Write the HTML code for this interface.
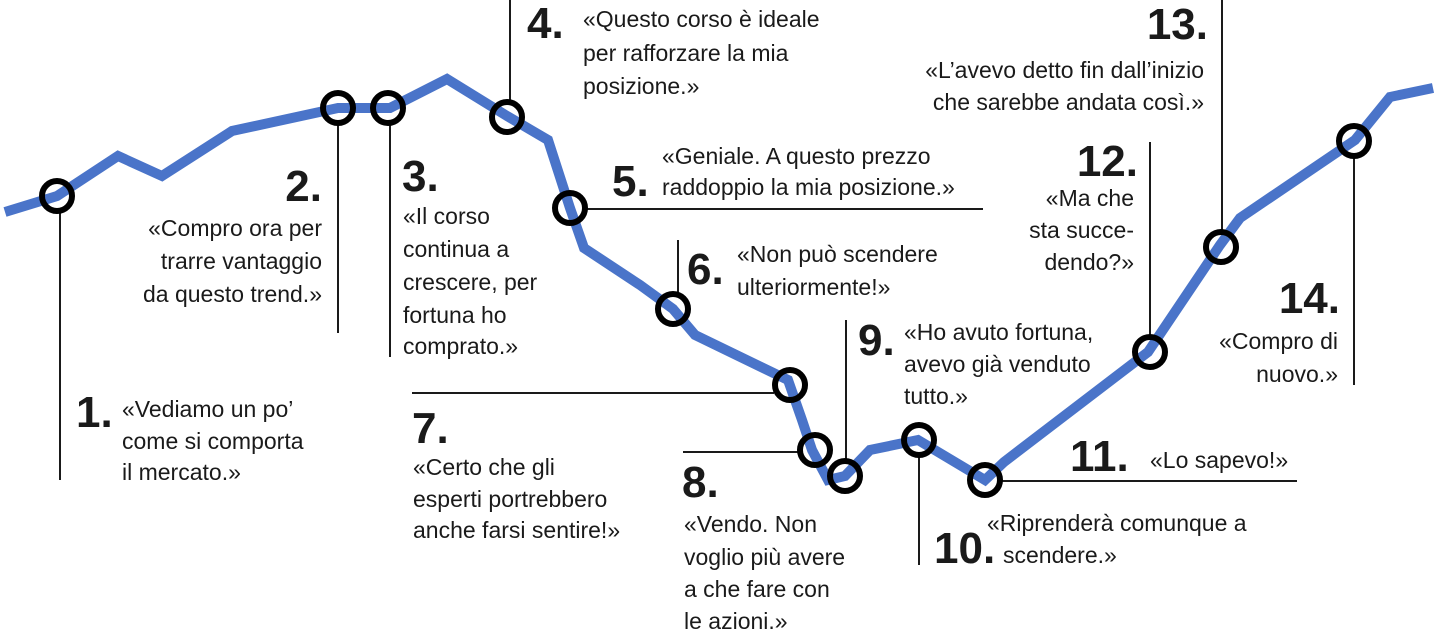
<!DOCTYPE html>
<html><head><meta charset="utf-8"><style>
html,body{margin:0;padding:0;background:#fff;width:1440px;height:636px;overflow:hidden}
svg text{font-family:"Liberation Sans Narrow","Liberation Sans",sans-serif;fill:#1a1a1a}
.t{font-size:23px}
.n{font-size:44px;font-weight:bold;font-family:"Liberation Sans",sans-serif}
</style></head><body>
<svg width="1440" height="636" viewBox="0 0 1440 636" xmlns="http://www.w3.org/2000/svg">
<g stroke="#1a1a1a" stroke-width="2" fill="none">
<line x1="60" y1="212" x2="60" y2="480"/>
<line x1="338" y1="124" x2="338" y2="333"/>
<line x1="390" y1="124" x2="390" y2="357"/>
<line x1="510" y1="0" x2="510" y2="100"/>
<line x1="586" y1="209" x2="983" y2="209"/>
<line x1="678" y1="240" x2="678" y2="293"/>
<line x1="412" y1="393" x2="774" y2="393"/>
<line x1="683" y1="452" x2="799" y2="452"/>
<line x1="846" y1="320" x2="846" y2="460"/>
<line x1="919" y1="456" x2="919" y2="565"/>
<line x1="1001" y1="481" x2="1297" y2="481"/>
<line x1="1150" y1="142" x2="1150" y2="336"/>
<line x1="1222" y1="0" x2="1222" y2="231"/>
<line x1="1354" y1="158" x2="1354" y2="385"/>
</g>
<polyline fill="none" stroke="#4a74c9" stroke-width="10" stroke-linejoin="miter" points="5,212 57,196 118,156 162,176 232,131 338,108 390,108 447,79 507,116 548,140 570,208 584,248 640,285 673,309 695,335 788,380 802,420 812,450 828,480 845,476 870,450 918,440 985,480 1004,462 1148,352 1220,245 1240,218 1355,140 1390,97 1433,88"/>
<g fill="none" stroke="#000" stroke-width="6">
<circle cx="57" cy="196" r="15"/><circle cx="338" cy="108" r="15"/><circle cx="388" cy="108" r="15"/>
<circle cx="507" cy="117" r="15"/><circle cx="570" cy="208" r="15"/><circle cx="673" cy="309" r="15"/>
<circle cx="790" cy="385" r="15"/><circle cx="815" cy="450" r="15"/><circle cx="845" cy="476" r="15"/>
<circle cx="919" cy="440" r="15"/><circle cx="985" cy="480" r="15"/><circle cx="1150" cy="352" r="15"/>
<circle cx="1221" cy="247" r="15"/><circle cx="1354" cy="141" r="15"/>
</g>
<text class="n" x="76" y="427">1.</text>
<text class="t" x="122" y="417">«Vediamo un po’</text>
<text class="t" x="122" y="449">come si comporta</text>
<text class="t" x="122" y="480">il mercato.»</text>
<text class="n" x="322" y="201" text-anchor="end">2.</text>
<g text-anchor="end"><text class="t" x="322" y="236">«Compro ora per</text>
<text class="t" x="322" y="269">trarre vantaggio</text>
<text class="t" x="322" y="302">da questo trend.»</text></g>
<text class="n" x="402" y="191">3.</text>
<text class="t" x="403" y="224">«Il corso</text>
<text class="t" x="403" y="257">continua a</text>
<text class="t" x="403" y="290">crescere, per</text>
<text class="t" x="403" y="323">fortuna ho</text>
<text class="t" x="403" y="354">comprato.»</text>
<text class="n" x="527" y="38">4.</text>
<text class="t" x="583" y="27">«Questo corso è ideale</text>
<text class="t" x="583" y="61">per rafforzare la mia</text>
<text class="t" x="583" y="94">posizione.»</text>
<text class="n" x="612" y="196">5.</text>
<text class="t" x="662" y="164">«Geniale. A questo prezzo</text>
<text class="t" x="662" y="195">raddoppio la mia posizione.»</text>
<text class="n" x="687" y="284">6.</text>
<text class="t" x="737" y="262">«Non può scendere</text>
<text class="t" x="737" y="295">ulteriormente!»</text>
<text class="n" x="412" y="443">7.</text>
<text class="t" x="413" y="475">«Certo che gli</text>
<text class="t" x="413" y="507">esperti portrebbero</text>
<text class="t" x="413" y="538">anche farsi sentire!»</text>
<text class="n" x="682" y="497">8.</text>
<text class="t" x="684" y="532">«Vendo. Non</text>
<text class="t" x="684" y="565">voglio più avere</text>
<text class="t" x="684" y="597">a che fare con</text>
<text class="t" x="684" y="629">le azioni.»</text>
<text class="n" x="858" y="355">9.</text>
<text class="t" x="904" y="340">«Ho avuto fortuna,</text>
<text class="t" x="904" y="372">avevo già venduto</text>
<text class="t" x="904" y="404">tutto.»</text>
<text class="n" x="934" y="563">10.</text>
<text class="t" x="987" y="531">«Riprenderà comunque a</text>
<text class="t" x="1003" y="563">scendere.»</text>
<text class="n" x="1070" y="471">11.</text>
<text class="t" x="1150" y="468">«Lo sapevo!»</text>
<text class="n" x="1138" y="176" text-anchor="end">12.</text>
<g text-anchor="end"><text class="t" x="1134" y="206">«Ma che</text>
<text class="t" x="1134" y="238">sta succe-</text>
<text class="t" x="1134" y="270">dendo?»</text></g>
<text class="n" x="1208" y="39" text-anchor="end">13.</text>
<g text-anchor="end"><text class="t" x="1204" y="78">«L’avevo detto fin dall’inizio</text>
<text class="t" x="1204" y="110">che sarebbe andata così.»</text></g>
<text class="n" x="1340" y="313" text-anchor="end">14.</text>
<g text-anchor="end"><text class="t" x="1338" y="349">«Compro di</text>
<text class="t" x="1338" y="382">nuovo.»</text></g>
</svg>
</body></html>
